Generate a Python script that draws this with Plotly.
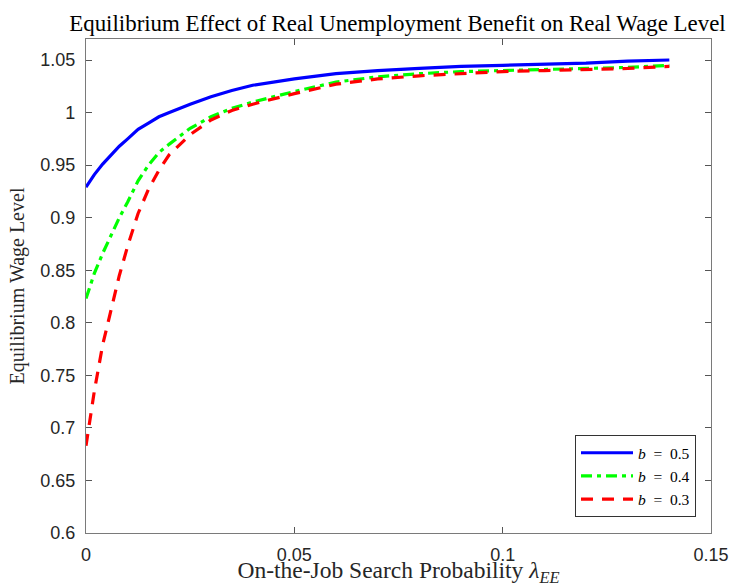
import plotly.graph_objects as go

# On-the-job search probability grid
lam_ee = [0, 0.002, 0.004, 0.006, 0.008, 0.01, 0.0125, 0.015, 0.0175, 0.02,
          0.025, 0.03, 0.035, 0.04, 0.045, 0.05, 0.06, 0.07, 0.08, 0.09,
          0.1, 0.11, 0.12, 0.13, 0.14]

wage_b05 = [0.929, 0.941, 0.951, 0.960, 0.968, 0.975, 0.984, 0.990, 0.996, 1.000,
            1.008, 1.015, 1.021, 1.026, 1.029, 1.032, 1.037, 1.040, 1.042, 1.044,
            1.045, 1.046, 1.047, 1.049, 1.050]
wage_b04 = [0.823, 0.847, 0.866, 0.883, 0.900, 0.915, 0.935, 0.950, 0.962, 0.970,
            0.985, 0.996, 1.004, 1.010, 1.015, 1.020, 1.029, 1.034, 1.037, 1.039,
            1.040, 1.041, 1.042, 1.043, 1.045]
wage_b03 = [0.683, 0.735, 0.779, 0.812, 0.845, 0.873, 0.904, 0.927, 0.945, 0.960,
            0.979, 0.993, 1.002, 1.008, 1.013, 1.018, 1.027, 1.032, 1.035, 1.037,
            1.039, 1.040, 1.041, 1.042, 1.044]

x_ticks = [0, 0.05, 0.1, 0.15]
x_tick_labels = ["0", "0.05", "0.1", "0.15"]
y_ticks = [0.6, 0.65, 0.7, 0.75, 0.8, 0.85, 0.9, 0.95, 1.0, 1.05]
y_tick_labels = ["0.6", "0.65", "0.7", "0.75", "0.8", "0.85", "0.9", "0.95", "1", "1.05"]

serif = "Liberation Serif, Times New Roman, serif"
sans = "Liberation Sans, Arial, sans-serif"

fig = go.Figure()
fig.add_trace(go.Scatter(x=lam_ee, y=wage_b05, mode="lines", name="<i>b</i>\u2002=\u20020.5",
                         line=dict(color="#0000FF", width=3.2, dash="solid")))
fig.add_trace(go.Scatter(x=lam_ee, y=wage_b04, mode="lines", name="<i>b</i>\u2002=\u20020.4",
                         line=dict(color="#00FF00", width=3.2, dash="11px,5px,4px,5px")))
fig.add_trace(go.Scatter(x=lam_ee, y=wage_b03, mode="lines", name="<i>b</i>\u2002=\u20020.3",
                         line=dict(color="#FF0000", width=3.2, dash="12px,9px")))

axis_common = dict(showline=True, linecolor="#7a7a7a", linewidth=1.3, mirror="allticks",
                   ticks="inside", ticklen=6, tickcolor="#555", showgrid=False,
                   zeroline=False, automargin=False,
                   tickfont=dict(family=sans, size=18, color="#262626"))

fig.update_layout(
    width=730, height=587,
    margin=dict(l=86, r=19, t=39, b=54),
    paper_bgcolor="white", plot_bgcolor="white",
    title=dict(text="Equilibrium Effect of Real Unemployment Benefit on Real Wage Level",
               x=0.5445, xanchor="center", y=0.961, yanchor="middle",
               font=dict(family=serif, size=22.9, color="#000")),
    xaxis=dict(range=[0, 0.15], tickvals=x_ticks, ticktext=x_tick_labels,
               ticklabelstandoff=5,
               title=dict(text="On-the-Job Search Probability <i>λ</i><sub><i>EE</i></sub>",
                          font=dict(family=serif, size=23.5, color="#262626"), standoff=3),
               **axis_common),
    yaxis=dict(range=[0.6, 1.07], tickvals=y_ticks, ticktext=y_tick_labels,
               ticklabelstandoff=6,
               title=dict(text="Equilibrium Wage Level",
                          font=dict(family=serif, size=20, color="#262626"), standoff=10),
               **axis_common),
    legend=dict(x=0.976, xanchor="right", y=0.032, yanchor="bottom",
                bgcolor="white", bordercolor="#333", borderwidth=1,
                font=dict(family=serif, size=15.5, color="#000"),
                tracegroupgap=0, itemwidth=52),
    showlegend=True,
)

fig.write_html("out.html", config={"displayModeBar": False},
               post_script="document.body.style.margin='0';")
